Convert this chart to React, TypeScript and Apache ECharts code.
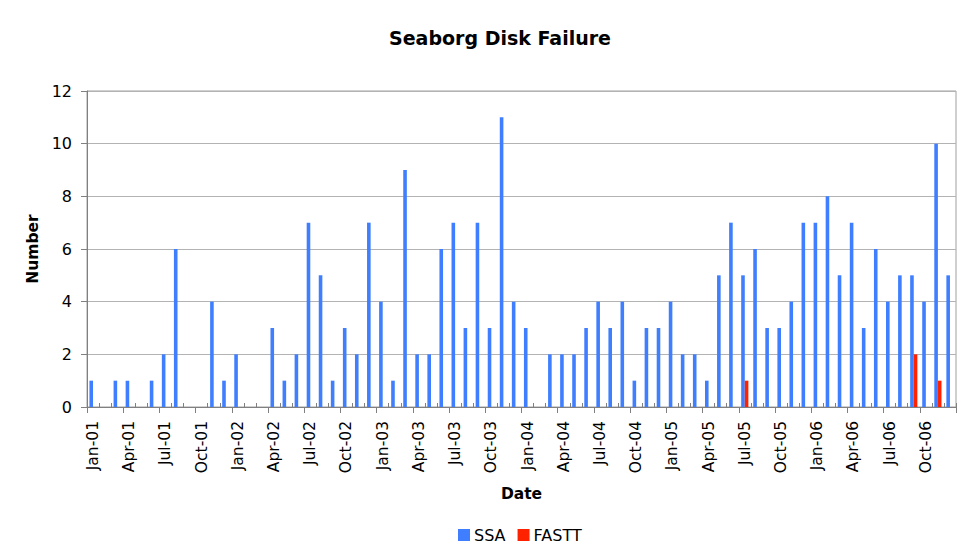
import React, { useEffect, useRef } from "react";
import * as echarts from "echarts";

const categories: string[] = [
  "Jan-01", "Feb-01", "Mar-01", "Apr-01", "May-01", "Jun-01", "Jul-01", "Aug-01", "Sep-01", "Oct-01", "Nov-01", "Dec-01",
  "Jan-02", "Feb-02", "Mar-02", "Apr-02", "May-02", "Jun-02", "Jul-02", "Aug-02", "Sep-02", "Oct-02", "Nov-02", "Dec-02",
  "Jan-03", "Feb-03", "Mar-03", "Apr-03", "May-03", "Jun-03", "Jul-03", "Aug-03", "Sep-03", "Oct-03", "Nov-03", "Dec-03",
  "Jan-04", "Feb-04", "Mar-04", "Apr-04", "May-04", "Jun-04", "Jul-04", "Aug-04", "Sep-04", "Oct-04", "Nov-04", "Dec-04",
  "Jan-05", "Feb-05", "Mar-05", "Apr-05", "May-05", "Jun-05", "Jul-05", "Aug-05", "Sep-05", "Oct-05", "Nov-05", "Dec-05",
  "Jan-06", "Feb-06", "Mar-06", "Apr-06", "May-06", "Jun-06", "Jul-06", "Aug-06", "Sep-06", "Oct-06", "Nov-06", "Dec-06",
];

const ssaValues: number[] = [
  1, 0, 1, 1, 0, 1, 2, 6, 0, 0, 4, 1,
  2, 0, 0, 3, 1, 2, 7, 5, 1, 3, 2, 7,
  4, 1, 9, 2, 2, 6, 7, 3, 7, 3, 11, 4,
  3, 0, 2, 2, 2, 3, 4, 3, 4, 1, 3, 3,
  4, 2, 2, 1, 5, 7, 5, 6, 3, 3, 4, 7,
  7, 8, 5, 7, 3, 6, 4, 5, 5, 4, 10, 5,
];

const fasttValues: number[] = [
  0, 0, 0, 0, 0, 0, 0, 0, 0, 0, 0, 0,
  0, 0, 0, 0, 0, 0, 0, 0, 0, 0, 0, 0,
  0, 0, 0, 0, 0, 0, 0, 0, 0, 0, 0, 0,
  0, 0, 0, 0, 0, 0, 0, 0, 0, 0, 0, 0,
  0, 0, 0, 0, 0, 0, 1, 0, 0, 0, 0, 0,
  0, 0, 0, 0, 0, 0, 0, 0, 2, 0, 1, 0,
];

const yTicks = { min: 0, max: 12, interval: 2 };

const FONT = "DejaVu Sans";

export default function App() {
  const ref = useRef<HTMLDivElement>(null);

  useEffect(() => {
    if (!ref.current) return;
    const chart = echarts.init(ref.current, undefined, { renderer: "svg" });
    chart.setOption({
      animation: false,
      backgroundColor: "#ffffff",
      textStyle: { fontFamily: FONT, color: "#000" },
      title: {
        text: "Seaborg Disk Failure",
        left: 495,
        top: 23,
        textAlign: "center",
        textStyle: { fontFamily: FONT, fontSize: 19, fontWeight: "bold", color: "#000" },
      },
      legend: {
        left: 458,
        top: 527,
        padding: 0,
        icon: "rect",
        itemWidth: 12,
        itemHeight: 12,
        itemGap: 12,
        textStyle: { fontFamily: FONT, fontSize: 16, lineHeight: 14, color: "#000", padding: [0, 0, 0, -1] },
        data: ["SSA", "FASTT"],
      },
      grid: {
        left: 87,
        top: 91,
        right: 15,
        bottom: 136,
        show: true,
        borderColor: "#a0a0a0",
        borderWidth: 1,
      },
      xAxis: [
        {
          type: "category",
          data: categories,
          boundaryGap: true,
          name: "Date",
          nameLocation: "middle",
          nameGap: 79,
          nameTextStyle: { fontFamily: FONT, fontSize: 15.5, fontWeight: "bold", color: "#000" },
          axisLine: { lineStyle: { color: "#808080", width: 1 } },
          axisTick: { show: true, interval: 2, length: 6, lineStyle: { color: "#808080" } },
          axisLabel: {
            interval: 2,
            rotate: 90,
            margin: 14,
            fontFamily: FONT,
            fontSize: 15.5,
            color: "#000",
          },
          splitLine: { show: false },
        },
        {
          type: "category",
          data: categories,
          boundaryGap: true,
          position: "bottom",
          axisLine: { show: false },
          axisTick: {
            show: true,
            inside: true,
            length: 4,
            interval: (index: number) => index % 3 !== 0,
            lineStyle: { color: "#808080" },
          },
          axisLabel: { show: false },
          splitLine: { show: false },
        },
      ],
      yAxis: {
        type: "value",
        min: yTicks.min,
        max: yTicks.max,
        interval: yTicks.interval,
        name: "Number",
        nameLocation: "middle",
        nameGap: 44,
        nameTextStyle: { fontFamily: FONT, fontSize: 15.5, fontWeight: "bold", color: "#000" },
        axisLine: { show: true, lineStyle: { color: "#808080" } },
        axisTick: { show: true, length: 6, lineStyle: { color: "#808080" } },
        axisLabel: { margin: 15, fontFamily: FONT, fontSize: 16, color: "#000" },
        splitLine: { show: true, lineStyle: { color: "#b3b3b3", width: 1 } },
      },
      series: [
        {
          name: "SSA",
          type: "bar",
          xAxisIndex: 0,
          data: ssaValues,
          barWidth: 3.6,
          barGap: "0%",
          itemStyle: { color: "#3f7fff" },
        },
        {
          name: "FASTT",
          type: "bar",
          xAxisIndex: 0,
          data: fasttValues,
          barWidth: 3.6,
          barGap: "0%",
          itemStyle: { color: "#ff2200" },
        },
      ],
    });
    return () => chart.dispose();
  }, []);

  return (
    <div
      ref={ref}
      style={{ position: "fixed", left: 0, top: 0, width: 971, height: 543, background: "#fff" }}
    />
  );
}
